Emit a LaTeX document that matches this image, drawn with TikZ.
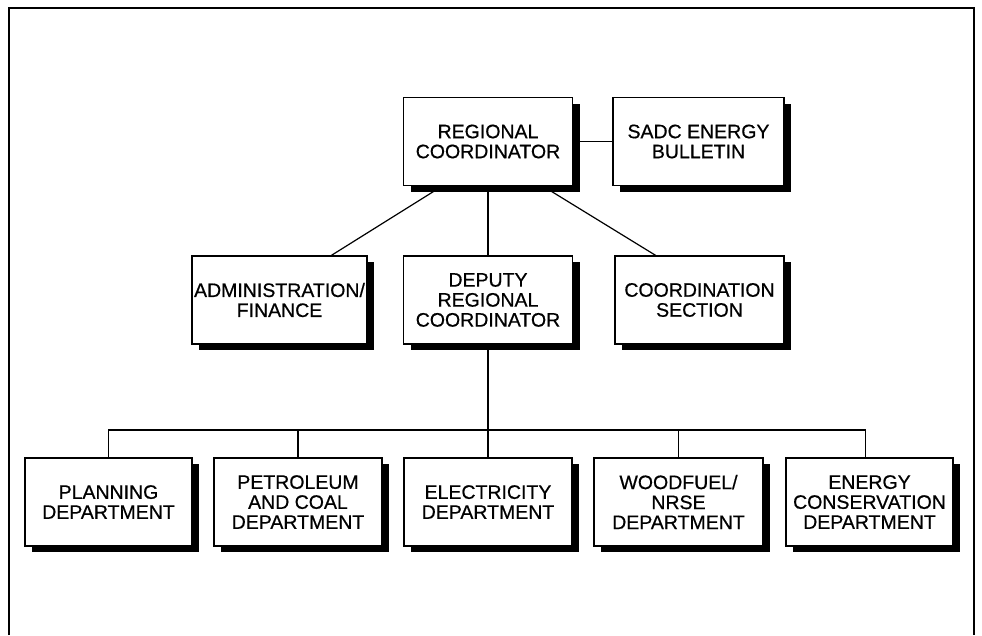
\documentclass[tikz,border=0pt]{standalone}
\usepackage{fontspec}
\setmainfont{Liberation Sans}[FakeBold=0.6]
\usetikzlibrary{shadows,backgrounds}
\begin{document}
\begin{tikzpicture}[x=1pt,y=-1pt,
  orgbox/.style={draw=black, line width=1.4pt, fill=white, align=center,
    minimum height=88pt, inner sep=0pt,
    font=\fontsize{19.5}{20}\selectfont,
    drop shadow={shadow xshift=7pt, shadow yshift=-6pt, fill=black, opacity=1}},
  link/.style={draw=black, line width=1.2pt}]
\useasboundingbox (0,0) rectangle (982,635);
\draw[line width=2pt] (9,635) -- (9,8) -- (974,8) -- (974,635);
% top row
\node[orgbox, minimum width=169pt] (rc) at (488,141.5) {REGIONAL\\COORDINATOR};
\node[orgbox, minimum width=171pt] (sadc) at (698.5,141.5) {SADC ENERGY\\BULLETIN};
% middle row
\node[orgbox, minimum width=175pt] (adm) at (279.5,300) {ADMINISTRATION/\\FINANCE};
\node[orgbox, minimum width=169pt] (dep) at (488,300) {DEPUTY\\REGIONAL\\COORDINATOR};
\node[orgbox, minimum width=169pt] (coord) at (699.5,300) {COORDINATION\\SECTION};
% bottom row
\node[orgbox, minimum width=167pt] (plan) at (108.5,502) {PLANNING\\DEPARTMENT};
\node[orgbox, minimum width=168pt] (pet) at (298,502) {PETROLEUM\\AND COAL\\DEPARTMENT};
\node[orgbox, minimum width=168pt] (elec) at (488,502) {ELECTRICITY\\DEPARTMENT};
\node[orgbox, minimum width=169pt] (wood) at (678.5,502) {WOODFUEL/\\NRSE\\DEPARTMENT};
\node[orgbox, minimum width=167pt] (ener) at (869.5,502) {ENERGY\\CONSERVATION\\DEPARTMENT};
\coordinate (bus) at (488,430);
\begin{scope}[on background layer]
\draw[link] (rc.east) -- (sadc.west);
\draw[link] ([xshift=-46pt]rc.south) -- ([xshift=52pt]adm.north);
\draw[link] ([xshift=55pt]rc.south) -- ([xshift=-44pt]coord.north);
\draw[link] (rc.south) -- (dep.north);
\draw[link] (dep.south) -- (elec.north);
\draw[link] (plan.north) -- (plan.north |- bus) -- ([xshift=-4pt]ener.north |- bus) -- ([xshift=-4pt]ener.north);
\draw[link] (pet.north) -- (pet.north |- bus);
\draw[link] (wood.north) -- (wood.north |- bus);
\end{scope}
\end{tikzpicture}
\end{document}
